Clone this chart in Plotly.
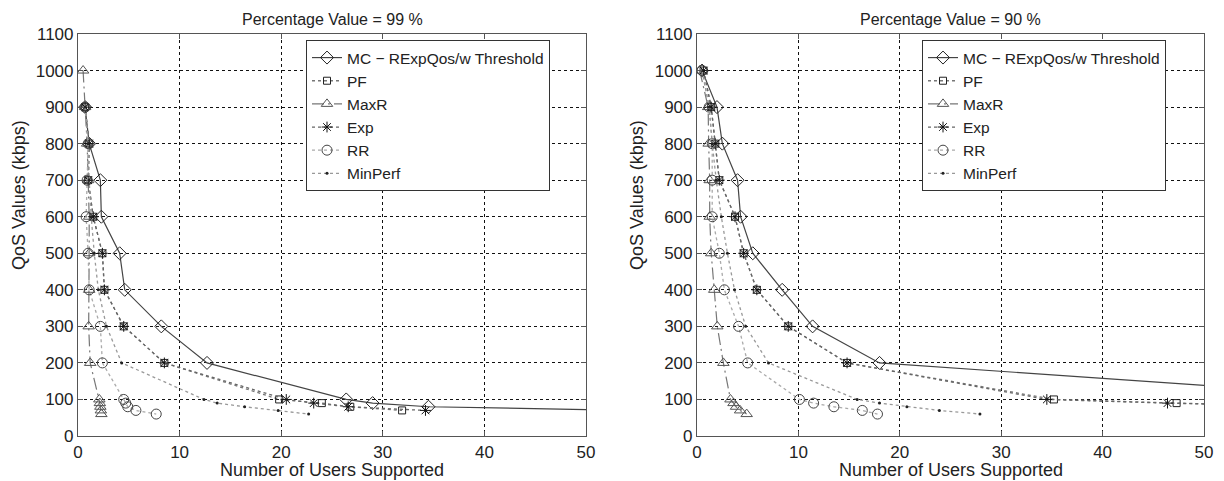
import plotly.graph_objects as go

# page body has an 8px margin; figure is sized so that it fits the 1224x481 window
OFF = 8
W, H = 1224 - OFF, 481 - OFF

# ---------- data: Percentage Value = 99 % (left) ----------
L_mc_y = [900, 800, 700, 600, 500, 400, 300, 200, 100, 90, 80, 70]
L_mc_x = [0.7, 1.1, 2.2, 2.3, 4.1, 4.6, 8.2, 12.7, 26.4, 29.0, 34.5, 55]
L_pf_y = [900, 800, 700, 600, 500, 400, 300, 200, 100, 90, 80, 70]
L_pf_x = [0.7, 1.1, 1.0, 1.5, 2.4, 2.6, 4.5, 8.5, 19.8, 24.0, 26.8, 31.9]
L_maxr_y = [1000, 900, 800, 700, 600, 500, 400, 300, 200, 100, 90, 80, 70, 60]
L_maxr_x = [0.5, 0.7, 0.9, 1.0, 1.1, 1.1, 1.1, 1.05, 1.2, 2.1, 2.15, 2.2, 2.25, 2.3]
L_exp_y = [900, 800, 700, 600, 500, 400, 300, 200, 100, 90, 80, 70]
L_exp_x = [0.7, 1.1, 1.0, 1.5, 2.4, 2.6, 4.5, 8.5, 20.5, 23.2, 26.6, 34.2]
L_rr_y = [900, 800, 700, 600, 500, 400, 300, 200, 100, 90, 80, 70, 60]
L_rr_x = [0.7, 1.0, 0.9, 0.8, 1.0, 1.1, 2.2, 2.4, 4.5, 4.7, 4.9, 5.7, 7.7]
L_mp_y = [900, 800, 700, 600, 500, 400, 300, 200, 100, 90, 80, 70, 60]
L_mp_x = [0.7, 1.0, 1.1, 1.3, 1.6, 2.0, 2.8, 4.3, 12.4, 13.7, 16.4, 19.7, 22.7]

# ---------- data: Percentage Value = 90 % (right) ----------
R_mc_y = [1000, 900, 800, 700, 600, 500, 400, 300, 200, 100]
R_mc_x = [0.5, 1.97, 2.5, 4.0, 4.3, 5.5, 8.4, 11.4, 18.0, 70]
R_pf_y = [1000, 900, 800, 700, 600, 500, 400, 300, 200, 100, 90, 80]
R_pf_x = [0.65, 1.4, 1.8, 2.2, 3.75, 4.6, 5.9, 9.0, 14.8, 35.2, 47.3, 62]
R_maxr_y = [1000, 900, 800, 700, 600, 500, 400, 300, 200, 100, 90, 80, 70, 60]
R_maxr_x = [0.26, 1.1, 1.15, 1.25, 1.25, 1.4, 1.7, 2.0, 2.6, 3.3, 3.6, 3.85, 4.25, 4.9]
R_exp_y = [1000, 900, 800, 700, 600, 500, 400, 300, 200, 100, 90, 80]
R_exp_x = [0.65, 1.4, 1.8, 2.2, 3.75, 4.6, 5.9, 9.0, 14.8, 34.5, 46.4, 61]
R_rr_y = [1000, 900, 800, 700, 600, 500, 400, 300, 200, 100, 90, 80, 70, 60]
R_rr_x = [0.5, 1.2, 1.5, 1.5, 1.5, 2.2, 2.7, 4.1, 5.0, 10.1, 11.5, 13.5, 16.3, 17.8]
R_mp_y = [1000, 900, 800, 700, 600, 500, 400, 300, 200, 100, 90, 80, 70, 60]
R_mp_x = [0.5, 1.2, 1.5, 1.9, 2.4, 3.0, 3.7, 4.8, 7.05, 15.8, 18.0, 20.7, 23.9, 27.9]

titles = ["Percentage Value = 99 %", "Percentage Value = 90 %"]
names = ["MC \u2212 RExpQos/w Threshold", "PF", "MaxR", "Exp", "RR", "MinPerf"]
x_ticks = [0, 10, 20, 30, 40, 50]
y_ticks = [0, 100, 200, 300, 400, 500, 600, 700, 800, 900, 1000, 1100]

FONT = "Liberation Sans, Arial, sans-serif"

styles = [
    dict(line=dict(color="#444", width=1.2, dash="solid"),
         marker=dict(symbol="diamond-open", size=10, color="#222", line=dict(width=1))),
    dict(line=dict(color="#777", width=1.3, dash="dot"),
         marker=dict(symbol="square-open", size=7, color="#222", line=dict(width=1))),
    dict(line=dict(color="#777", width=1.2, dash="12px,4px,2px,4px"),
         marker=dict(symbol="triangle-up-open", size=10, color="#555", line=dict(width=1))),
    dict(line=dict(color="#666", width=1.3, dash="dot"),
         marker=dict(symbol="asterisk-open", size=9, color="#111", line=dict(width=1))),
    dict(line=dict(color="#aaa", width=1.3, dash="dot"),
         marker=dict(symbol="circle-open", size=10, color="#444", line=dict(width=1))),
    dict(line=dict(color="#999", width=1.3, dash="dot"),
         marker=dict(symbol="circle", size=3, color="#222")),
]

fig = go.Figure()

left = [(L_mc_x, L_mc_y), (L_pf_x, L_pf_y), (L_maxr_x, L_maxr_y),
        (L_exp_x, L_exp_y), (L_rr_x, L_rr_y), (L_mp_x, L_mp_y)]
right = [(R_mc_x, R_mc_y), (R_pf_x, R_pf_y), (R_maxr_x, R_maxr_y),
         (R_exp_x, R_exp_y), (R_rr_x, R_rr_y), (R_mp_x, R_mp_y)]

for i, (xs, ys) in enumerate(left):
    fig.add_trace(go.Scatter(x=xs, y=ys, name=names[i], mode="lines+markers",
                             xaxis="x", yaxis="y", legend="legend", **styles[i]))
for i, (xs, ys) in enumerate(right):
    fig.add_trace(go.Scatter(x=xs, y=ys, name=names[i], mode="lines+markers",
                             xaxis="x2", yaxis="y2", legend="legend2", **styles[i]))

def px_x(p):
    return (p - OFF) / W

def px_y(p):
    return 1 - (p - OFF) / H

axis_common = dict(
    showgrid=True, gridcolor="#111", griddash="dot", gridwidth=1,
    showline=True, linecolor="#555", linewidth=1.2, mirror="ticks",
    ticks="inside", ticklen=5, tickcolor="#555", zeroline=False,
    tickfont=dict(family=FONT, size=17, color="#222"), automargin=False,
)

ybot, ytop = px_y(436), px_y(34)
leg_common = dict(xanchor="left", yanchor="top",
                  bgcolor="white", bordercolor="#333", borderwidth=1,
                  font=dict(family=FONT, size=15.5, color="#222"),
                  tracegroupgap=0, itemwidth=30,
                  entrywidth=232, entrywidthmode="pixels")
fig.update_layout(
    width=W, height=H, margin=dict(l=0, r=0, t=0, b=0),
    paper_bgcolor="white", plot_bgcolor="white",
    font=dict(family=FONT, size=16, color="#222"),
    xaxis=dict(domain=[px_x(78), px_x(586)], range=[0, 50], tickvals=x_ticks,
               anchor="y", **axis_common),
    yaxis=dict(domain=[ybot, ytop], range=[0, 1100], tickvals=y_ticks,
               anchor="x", **axis_common),
    xaxis2=dict(domain=[px_x(697), px_x(1204)], range=[0, 50], tickvals=x_ticks,
                anchor="y2", **axis_common),
    yaxis2=dict(domain=[ybot, ytop], range=[0, 1100], tickvals=y_ticks,
                anchor="x2", **axis_common),
    legend=dict(x=px_x(306), y=px_y(40), **leg_common),
    legend2=dict(x=px_x(922), y=px_y(40), **leg_common),
    showlegend=True,
)

annots = []
for cx, t in [(332, titles[0]), (950.5, titles[1])]:
    annots.append(dict(text=t, x=px_x(cx), y=px_y(19), xref="paper", yref="paper",
                       xanchor="center", yanchor="middle", showarrow=False,
                       font=dict(family=FONT, size=16, color="#222")))
    annots.append(dict(text="Number of Users Supported", x=px_x(cx), y=px_y(470),
                       xref="paper", yref="paper", xanchor="center", yanchor="middle",
                       showarrow=False, font=dict(family=FONT, size=18, color="#222")))
for cx in [19, 637]:
    annots.append(dict(text="QoS Values (kbps)", x=px_x(cx), y=px_y(195),
                       xref="paper", yref="paper", xanchor="center", yanchor="middle",
                       showarrow=False, textangle=-90,
                       font=dict(family=FONT, size=18, color="#222")))
fig.update_layout(annotations=annots)

fig.write_html("out.html")
